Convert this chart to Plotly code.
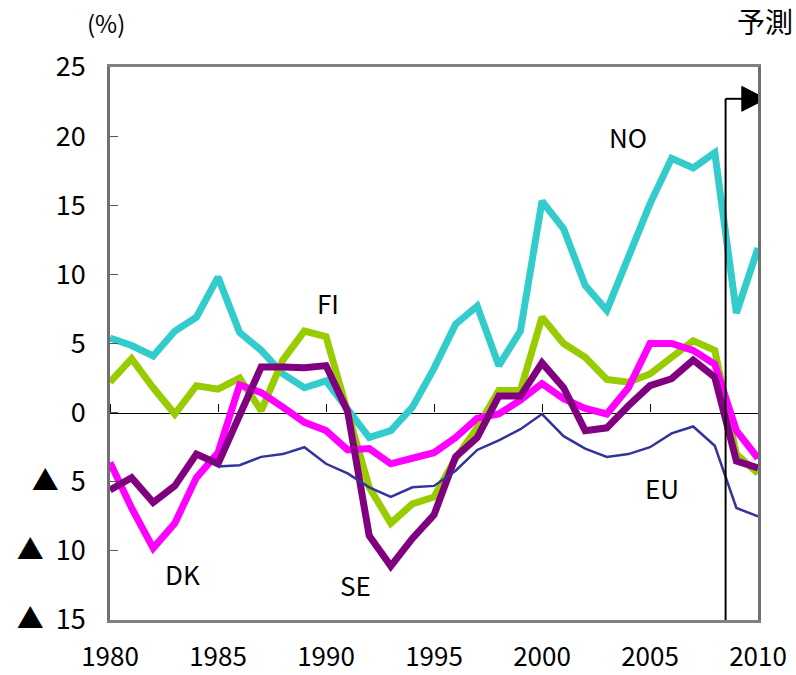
import plotly.graph_objects as go

years = list(range(1980, 2011))
eu_years = list(range(1985, 2011))

no_vals = [5.4, 4.85, 4.1, 5.9, 6.9, 9.8, 5.8, 4.5, 2.8, 1.8, 2.3, 0.3, -1.8, -1.3, 0.4, 3.2,
           6.4, 7.7, 3.4, 5.9, 15.3, 13.3, 9.2, 7.4, 11.2, 15.1, 18.4, 17.7, 18.8, 7.2, 11.9]
fi_vals = [2.2, 3.9, 1.8, -0.1, 1.95, 1.7, 2.5, 0.15, 3.8, 5.9, 5.5, 0.1, -5.4, -8.0, -6.6, -6.1,
           -3.3, -1.1, 1.6, 1.6, 6.9, 5.0, 4.0, 2.4, 2.2, 2.8, 4.0, 5.2, 4.5, -3.0, -4.4]
dk_vals = [-3.6, -6.9, -9.8, -8.0, -4.7, -2.9, 2.0, 1.45, 0.4, -0.7, -1.3, -2.7, -2.6, -3.7, -3.3, -2.9,
           -1.8, -0.4, -0.1, 0.9, 2.1, 1.0, 0.3, -0.1, 1.8, 5.0, 5.0, 4.5, 3.5, -1.3, -3.3]
se_vals = [-5.6, -4.7, -6.5, -5.3, -3.0, -3.7, -0.2, 3.3, 3.3, 3.25, 3.4, 0.1, -8.9, -11.1, -9.1, -7.4,
           -3.2, -1.8, 1.2, 1.2, 3.6, 1.8, -1.3, -1.1, 0.5, 1.95, 2.45, 3.8, 2.55, -3.5, -4.0]
eu_vals = [-3.9, -3.8, -3.2, -3.0, -2.5, -3.7, -4.4, -5.4, -6.1, -5.4, -5.3,
           -4.2, -2.7, -2.0, -1.2, -0.1, -1.7, -2.6, -3.2, -3.0, -2.5, -1.5, -1.0, -2.4, -6.9, -7.5]

y_tickvals = [-15, -10, -5, 0, 5, 10, 15, 20, 25]
y_ticktext = ["▲\u00a0\u00a015", "▲\u00a0\u00a010", "▲\u00a0\u00a05", "0", "5", "10", "15", "20", "25"]
x_tickvals = [1980, 1985, 1990, 1995, 2000, 2005, 2010]

FONT = "Noto Sans CJK JP"

fig = go.Figure()
series = [
    ("NO", years, no_vals, "#33CCCC", 7),
    ("FI", years, fi_vals, "#99CC00", 7),
    ("DK", years, dk_vals, "#FF00FF", 7),
    ("SE", years, se_vals, "#800080", 7),
    ("EU", eu_years, eu_vals, "#333399", 2.5),
]
for name, xs, ys, col, w in series:
    fig.add_trace(go.Scatter(x=xs, y=ys, mode="lines", name=name,
                             line=dict(color=col, width=w), showlegend=False,
                             cliponaxis=False))

# helper trace for the zero axis
fig.add_trace(go.Scatter(x=[], y=[], xaxis="x2", yaxis="y", showlegend=False))

fig.update_layout(
    width=796, height=675,
    margin=dict(l=110, r=38, t=67, b=55, autoexpand=False),
    plot_bgcolor="white", paper_bgcolor="white",
    font=dict(family=FONT, color="black", size=26),
    xaxis=dict(range=[1980, 2010], tickvals=x_tickvals, ticks="", showgrid=False,
               zeroline=False, showline=True, linecolor="#808080", linewidth=2.5,
               mirror=True, tickfont=dict(size=26), ticklabelstandoff=12,
               automargin=False),
    xaxis2=dict(range=[1980, 2010], overlaying="x", anchor="free", position=0.375,
                side="top", tickvals=x_tickvals, ticks="outside", ticklen=8,
                tickcolor="black", tickwidth=1.2, showticklabels=False, showgrid=False,
                zeroline=False, showline=True, linecolor="black", linewidth=1.3,
                layer="below traces", automargin=False),
    yaxis=dict(range=[-15, 25], tickvals=y_tickvals, ticktext=y_ticktext,
               ticks="inside", ticklen=8, tickcolor="#555555", tickwidth=1.2,
               showgrid=False, zeroline=False, showline=True, linecolor="#707070",
               linewidth=2.5, mirror=True, tickfont=dict(size=27), ticklabelstandoff=16,
               automargin=False),
)

# forecast marker line and arrow
fig.add_shape(type="line", x0=2008.5, x1=2008.5, y0=-15, y1=22.7,
              line=dict(color="black", width=2), layer="above")
fig.add_shape(type="line", x0=2008.5, x1=2009.3, y0=22.7, y1=22.7,
              line=dict(color="black", width=2), layer="above")
fig.add_shape(type="path", path="M 2009.25 23.6 L 2010.37 22.7 L 2009.25 21.8 Z",
              fillcolor="black", line=dict(color="black", width=1), layer="above")

labels = [("NO", 2004.0, 20.0), ("FI", 1990.1, 8.0), ("DK", 1983.35, -11.6),
          ("SE", 1991.35, -12.4), ("EU", 2005.55, -5.4)]
for t, x, y in labels:
    fig.add_annotation(x=x, y=y, text=t, showarrow=False, font=dict(size=26))

fig.add_annotation(xref="paper", yref="paper", x=0.0, y=1.0, xanchor="center",
                   text="(%)", showarrow=False, font=dict(size=24),
                   yshift=64, xshift=-4)
fig.add_annotation(xref="paper", yref="paper", x=1.0, y=1.0, xanchor="center",
                   text="予測", showarrow=False, font=dict(size=28),
                   yshift=68, xshift=7)

fig.write_html("out.html", config={"displayModeBar": False},
               post_script="document.body.style.margin='0';")
